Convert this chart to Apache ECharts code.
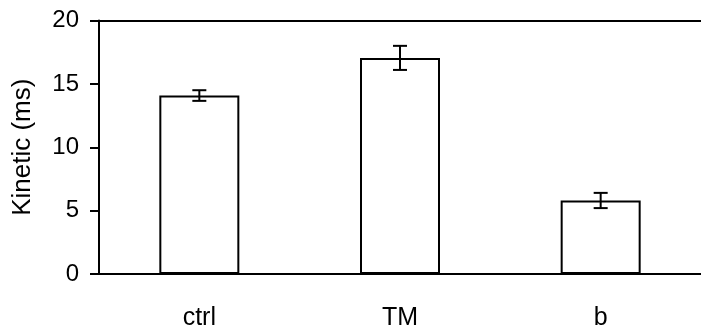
<!DOCTYPE html>
<html>
<head>
<meta charset="utf-8">
<script src="https://cdn.jsdelivr.net/npm/echarts@6/dist/echarts.min.js"></script>
<style>html,body{margin:0;padding:0;background:#fff;}#c{width:701px;height:333px;}</style>
</head>
<body>
<div id="c"></div>
<script>
var categories = ['ctrl', 'TM', 'b'];
var values = [14.08, 17.05, 5.8];
var errors = [0.42, 0.95, 0.6];
var yTicks = [0, 5, 10, 15, 20];

var chart = echarts.init(document.getElementById('c'), null, {renderer: 'canvas'});
var font = 'Liberation Sans, Arial, sans-serif';
var errData = categories.map(function (c, i) { return [i, values[i] - errors[i], values[i] + errors[i]]; });

chart.setOption({
  animation: false,
  grid: {left: 99, top: 20.5, width: 609, bottom: 59, containLabel: false},
  xAxis: [{
    type: 'category', data: categories, position: 'bottom',
    axisLine: {show: true, lineStyle: {color: '#000', width: 2}},
    axisTick: {show: false},
    axisLabel: {color: '#000', fontSize: 25, fontFamily: font, margin: 32}
  }, {
    type: 'category', data: categories, position: 'top',
    axisLine: {show: true, onZero: false, lineStyle: {color: '#000', width: 2}},
    axisTick: {show: false}, axisLabel: {show: false}
  }],
  yAxis: {
    type: 'value', min: yTicks[0], max: yTicks[yTicks.length - 1], interval: 5,
    name: 'Kinetic (ms)', nameLocation: 'middle', nameGap: 63,
    nameTextStyle: {color: '#000', fontSize: 26, fontFamily: font},
    axisLine: {show: true, lineStyle: {color: '#000', width: 2}},
    axisTick: {show: true, length: 9, lineStyle: {color: '#000', width: 2}},
    axisLabel: {color: '#000', fontSize: 24, fontFamily: font, margin: 20},
    splitLine: {show: false}
  },
  series: [{
    type: 'bar', data: values, barWidth: 80,
    itemStyle: {color: '#fff', borderColor: '#000', borderWidth: 2}
  }, {
    type: 'custom', data: errData, z: 10,
    renderItem: function (params, api) {
      var x = api.value(0);
      var lo = api.coord([x, api.value(1)]);
      var hi = api.coord([x, api.value(2)]);
      var hw = 7;
      var st = {stroke: '#000', lineWidth: 2};
      return {type: 'group', children: [
        {type: 'line', shape: {x1: hi[0], y1: hi[1], x2: lo[0], y2: lo[1]}, style: st},
        {type: 'line', shape: {x1: hi[0] - hw, y1: hi[1], x2: hi[0] + hw, y2: hi[1]}, style: st},
        {type: 'line', shape: {x1: lo[0] - hw, y1: lo[1], x2: lo[0] + hw, y2: lo[1]}, style: st}
      ]};
    }
  }]
});
</script>
</body>
</html>
